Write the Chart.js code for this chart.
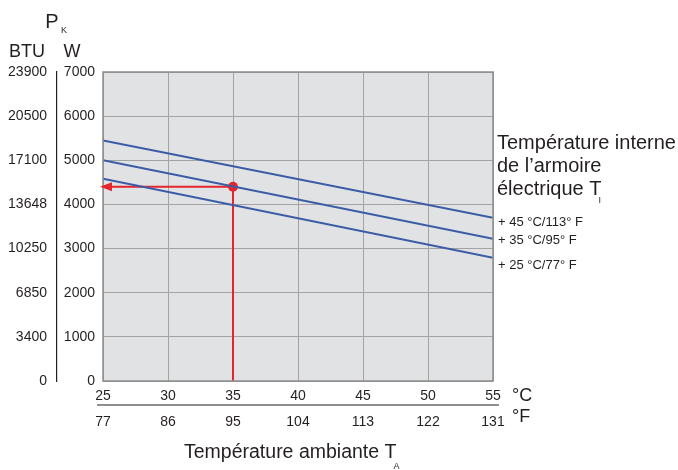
<!DOCTYPE html>
<html>
<head>
<meta charset="utf-8">
<script src="https://cdn.jsdelivr.net/npm/chart.js@4.4.1/dist/chart.umd.min.js"></script>
<style>
  html, body { margin: 0; padding: 0; background: #fff; }
  #wrap { width: 678px; height: 470px; }
</style>
</head>
<body>
<div id="wrap"><canvas id="chart" width="678" height="470"></canvas></div>
<script>
// ambient temperature (°C) at the ends of each line
const tempC = [25, 55];
// cooling power (W) for each internal cabinet temperature
const powerT45 = [5450, 3700];
const powerT35 = [5000, 3220];
const powerT25 = [4580, 2790];
// worked example point
const exampleC = 35;
const exampleW = 4400;

// axis labels
const wTicks = [0, 1000, 2000, 3000, 4000, 5000, 6000, 7000];
const btuTicks = ['0', '3400', '6850', '10250', '13648', '17100', '20500', '23900'];
const cTicks = [25, 30, 35, 40, 45, 50, 55];
const fTicks = ['77', '86', '95', '104', '113', '122', '131'];
const lineLabels = ['+ 45 °C/113° F', '+ 35 °C/95° F', '+ 25 °C/77° F'];

const FONT = '"Liberation Sans", Arial, sans-serif';
const TEXT = '#231f20';
const BLUE = '#3a5ca6';
const RED = '#e5262c';

function toPts(ys) {
    return tempC.map((x, i) => ({ x: x, y: ys[i] }));
}

// plot background + frame + extra text
const decor = {
    id: 'decor',
    beforeDraw(chart) {
        const a = chart.chartArea;
        const ctx = chart.ctx;
        ctx.save();
        ctx.fillStyle = '#e1e2e4';
        ctx.fillRect(a.left, a.top, a.right - a.left, a.bottom - a.top);
        ctx.restore();
    },
    afterDatasetsDraw(chart) {
        const a = chart.chartArea;
        const ctx = chart.ctx;
        ctx.save();
        // frame
        ctx.strokeStyle = '#8d8d8d';
        ctx.lineWidth = 1.5;
        ctx.strokeRect(a.left, a.top, a.right - a.left, a.bottom - a.top);
        ctx.restore();
    },
    afterDraw(chart) {
        const a = chart.chartArea;
        const ctx = chart.ctx;
        ctx.save();

        // arrow head on the red reading line
        const sx = chart.scales.x, sy = chart.scales.y;
        const ay = sy.getPixelForValue(exampleW);
        const ax = sx.getPixelForValue(tempC[0]) - 3;
        ctx.fillStyle = RED;
        ctx.beginPath();
        ctx.moveTo(ax, ay);
        ctx.lineTo(ax + 12, ay - 4.5);
        ctx.lineTo(ax + 12, ay + 4.5);
        ctx.closePath();
        ctx.fill();

        // line between °C and °F rows
        const fx = chart.scales.xF;
        ctx.strokeStyle = '#231f20';
        ctx.lineWidth = 1.2;
        ctx.beginPath();
        ctx.moveTo(a.left - 6, fx.top);
        ctx.lineTo(a.right + 6, fx.top);
        ctx.stroke();

        ctx.fillStyle = TEXT;
        ctx.textBaseline = 'alphabetic';

        // P_K, units
        ctx.textAlign = 'center';
        ctx.font = '20px ' + FONT;
        ctx.fillText('P', 52, 28);
        ctx.font = '9px ' + FONT;
        ctx.fillText('K', 64, 33);
        ctx.font = '18px ' + FONT;
        ctx.fillText('BTU', 27, 57);
        ctx.fillText('W', 72, 57);

        ctx.textAlign = 'left';
        ctx.fillText('°C', 512, 401);
        ctx.fillText('°F', 512, 422);

        // x title
        ctx.font = '19.5px ' + FONT;
        ctx.fillText('Température ambiante T', 184, 458);
        const tw = ctx.measureText('Température ambiante T').width;
        ctx.font = '9px ' + FONT;
        ctx.fillText('A', 184 + tw - 3, 469);

        // legend title
        ctx.font = '20px ' + FONT;
        ctx.fillText('Température interne', 497, 149);
        ctx.fillText('de l\u2019armoire', 497, 172);
        ctx.fillText('électrique T', 497, 195);
        const ew = ctx.measureText('électrique T').width;
        ctx.font = '9px ' + FONT;
        ctx.fillText('I', 497 + ew - 3, 203);

        // line labels next to each line end
        ctx.font = '13px ' + FONT;
        const ends = [powerT45, powerT35, powerT25];
        const nudge = [3, 0, 6];
        ends.forEach((s, i) => {
            ctx.fillText(lineLabels[i], 498, sy.getPixelForValue(s[1]) + 5 + nudge[i]);
        });
        ctx.restore();
    }
};

new Chart(document.getElementById('chart'), {
    type: 'line',
    data: {
        datasets: [
            { data: toPts(powerT45), borderColor: BLUE, borderWidth: 2, pointRadius: 0 },
            { data: toPts(powerT35), borderColor: BLUE, borderWidth: 2, pointRadius: 0 },
            { data: toPts(powerT25), borderColor: BLUE, borderWidth: 2, pointRadius: 0 },
            {
                data: [
                    { x: tempC[0], y: exampleW },
                    { x: exampleC, y: exampleW },
                    { x: exampleC, y: 0 }
                ],
                borderColor: RED,
                backgroundColor: RED,
                borderWidth: 2,
                pointRadius: [0, 5, 0],
                pointBorderWidth: 0,
                clip: false
            }
        ]
    },
    options: {
        responsive: false,
        animation: false,
        layout: { padding: { left: 0, top: 72, right: 185, bottom: 35 } },
        plugins: { legend: { display: false }, tooltip: { enabled: false } },
        elements: { line: { tension: 0 } },
        scales: {
            x: {
                type: 'linear', position: 'bottom', weight: 0,
                min: 25, max: 55,
                afterBuildTicks: s => { s.ticks = cTicks.map(v => ({ value: v })); },
                afterFit: s => { s.height = 24; },
                grid: { color: '#a3a3a3', lineWidth: 1, drawTicks: false },
                border: { display: false },
                ticks: {
                    color: TEXT, font: { family: FONT, size: 14 }, padding: 7, maxRotation: 0,
                    callback: v => String(v)
                }
            },
            xF: {
                type: 'linear', position: 'bottom', weight: 1,
                min: 25, max: 55,
                afterBuildTicks: s => { s.ticks = cTicks.map(v => ({ value: v })); },
                afterFit: s => { s.height = 30; },
                grid: { display: false, drawTicks: false },
                border: { display: false },
                ticks: {
                    color: TEXT, font: { family: FONT, size: 14 }, padding: 9, maxRotation: 0,
                    callback: (v, i) => fTicks[i]
                }
            },
            y: {
                type: 'linear', position: 'left', weight: 0,
                min: 0, max: 7000,
                afterBuildTicks: s => { s.ticks = wTicks.map(v => ({ value: v })); },
                afterFit: s => { s.width = 46; },
                grid: { color: '#a3a3a3', lineWidth: 1, drawTicks: false },
                border: { display: false },
                ticks: {
                    color: TEXT, font: { family: FONT, size: 14 }, padding: 8,
                    callback: v => String(v)
                }
            },
            yBtu: {
                type: 'linear', position: 'left', weight: 1,
                min: 0, max: 7000,
                afterBuildTicks: s => { s.ticks = wTicks.map(v => ({ value: v })); },
                afterFit: s => { s.width = 57; },
                grid: { display: false, drawTicks: false },
                border: { display: true, color: '#231f20', width: 1.2 },
                ticks: {
                    color: TEXT, font: { family: FONT, size: 14 }, padding: 10,
                    callback: (v, i) => btuTicks[i]
                }
            }
        }
    },
    plugins: [decor]
});
</script>
</body>
</html>
